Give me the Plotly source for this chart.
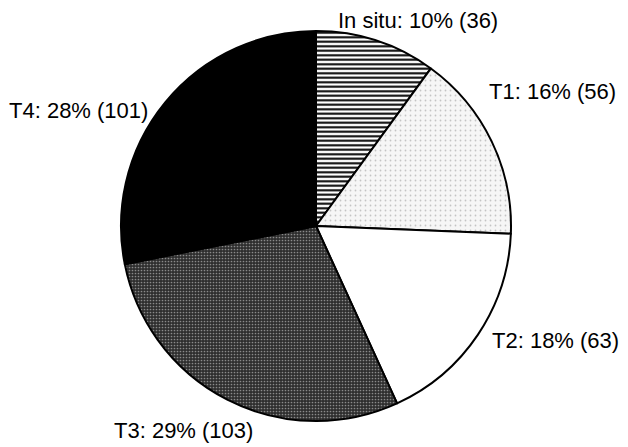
import plotly.graph_objects as go

categories = ["In situ", "T1", "T2", "T3", "T4"]
counts = [36, 56, 63, 103, 101]

label_text = [f"{c}: {round(100*v/sum(counts))}% ({v})" for c, v in zip(categories, counts)]

OFF = 8  # page body margin

fig = go.Figure(go.Pie(
    labels=categories,
    values=counts,
    sort=False,
    direction="clockwise",
    rotation=0,
    textinfo="none",
    hoverinfo="label+value+percent",
    marker=dict(
        colors=["white", "#f3f3f3", "white", "#3a3a3a", "black"],
        line=dict(color="black", width=2),
        pattern=dict(
            shape=["-", ".", "", ".", ""],
            fgcolor=["black", "#c4c4c4", "black", "#8a8a8a", "black"],
            bgcolor=["white", "#f6f6f6", "white", "#2e2e2e", "black"],
            size=[4.5, 5, 6, 3, 6],
            solidity=[0.45, 0.1, 0.3, 0.25, 0.3],
            fillmode="replace",
        ),
    ),
    domain=dict(x=[(121 - OFF)/628, (511 - OFF)/628],
                y=[(26 + OFF)/447, (416 + OFF)/447]),
    showlegend=False,
))

label_pos = [(418, 21), (552, 92), (555, 340), (183, 430), (78, 110)]
for t, (x, y) in zip(label_text, label_pos):
    fig.add_annotation(
        text=t, x=(x - OFF)/628, y=1 - (y - OFF)/447, xref="paper", yref="paper",
        showarrow=False, xanchor="center", yanchor="middle",
        font=dict(family="Liberation Sans, Arial, sans-serif", size=22, color="black"),
    )

fig.update_layout(
    width=628, height=447,
    margin=dict(l=0, r=0, t=0, b=0),
    paper_bgcolor="white", plot_bgcolor="white",
)

fig.write_html("out.html")
